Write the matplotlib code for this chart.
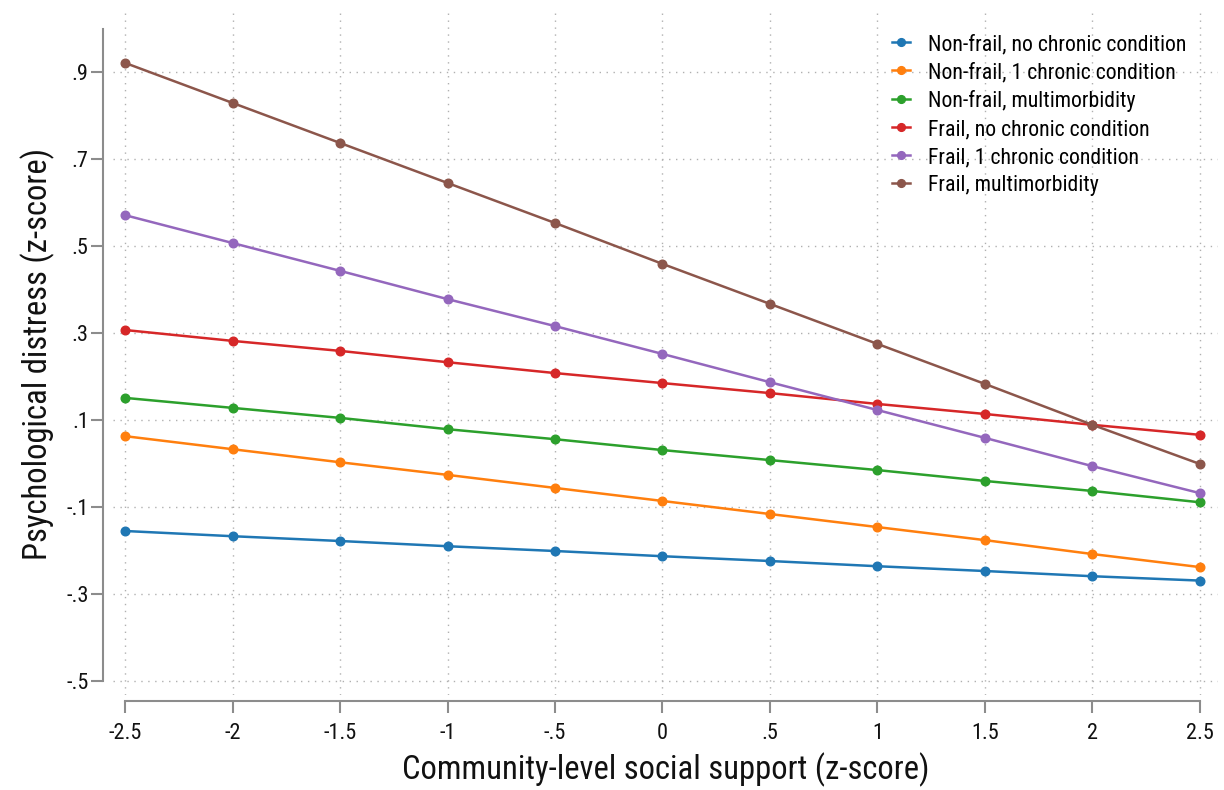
import matplotlib
matplotlib.use("Agg")
import matplotlib.pyplot as plt

plt.rcParams['font.family'] = ['Roboto Condensed', 'Liberation Sans', 'DejaVu Sans']

x_vals = [-2.5, -2.0, -1.5, -1.0, -0.5, 0.0, 0.5, 1.0, 1.5, 2.0, 2.5]

nonfrail_none = [-0.155, -0.167, -0.178, -0.190, -0.201, -0.213, -0.224, -0.236, -0.247, -0.259, -0.269]
nonfrail_one = [0.063, 0.033, 0.003, -0.026, -0.056, -0.086, -0.116, -0.146, -0.176, -0.208, -0.238]
nonfrail_multi = [0.151, 0.128, 0.105, 0.079, 0.056, 0.031, 0.008, -0.015, -0.040, -0.063, -0.089]
frail_none = [0.307, 0.282, 0.259, 0.233, 0.208, 0.185, 0.162, 0.137, 0.114, 0.089, 0.066]
frail_one = [0.571, 0.507, 0.443, 0.378, 0.316, 0.252, 0.187, 0.123, 0.059, -0.006, -0.068]
frail_multi = [0.921, 0.829, 0.737, 0.645, 0.553, 0.459, 0.367, 0.275, 0.183, 0.089, -0.001]

series = [
    ("Non-frail, no chronic condition", nonfrail_none, "#1f77b4"),
    ("Non-frail, 1 chronic condition", nonfrail_one, "#ff7f0e"),
    ("Non-frail, multimorbidity", nonfrail_multi, "#2ca02c"),
    ("Frail, no chronic condition", frail_none, "#d62728"),
    ("Frail, 1 chronic condition", frail_one, "#9467bd"),
    ("Frail, multimorbidity", frail_multi, "#8c564b"),
]

x_ticks = [-2.5, -2, -1.5, -1, -0.5, 0, 0.5, 1, 1.5, 2, 2.5]
x_tick_labels = ["-2.5", "-2", "-1.5", "-1", "-.5", "0", ".5", "1", "1.5", "2", "2.5"]
y_ticks = [-0.5, -0.3, -0.1, 0.1, 0.3, 0.5, 0.7, 0.9]
y_tick_labels = ["-.5", "-.3", "-.1", ".1", ".3", ".5", ".7", ".9"]

tick_fs = 16
label_fs = 23.5
legend_fs = 15.7

fig = plt.figure(figsize=(12.24, 7.9), dpi=100)
ax = fig.add_axes([113/1224, 1 - 695/790, (1218-113)/1224, (695-12)/790])

for label, vals, color in series:
    ax.plot(x_vals, vals, color=color, lw=1.8, marker='o', ms=6.2, label=label)

ax.set_xlim(-2.556, 2.584)
ax.set_ylim(-0.532, 1.038)

ax.set_xticks(x_ticks)
ax.set_xticklabels(x_tick_labels)
ax.set_yticks(y_ticks)
ax.set_yticklabels(y_tick_labels)

spine_color = "#8c8c8c"
for s in ['top', 'right']:
    ax.spines[s].set_visible(False)
ax.spines['left'].set_position(('outward', 7))
ax.spines['bottom'].set_position(('outward', 4))
ax.spines['left'].set_bounds(-0.5, 1.0)
ax.spines['bottom'].set_bounds(-2.5, 2.5)
for s in ['left', 'bottom']:
    ax.spines[s].set_color(spine_color)
    ax.spines[s].set_linewidth(1.5)

ax.tick_params(axis='both', length=8.5, width=1.5, color=spine_color,
               labelsize=tick_fs, labelcolor='#111111')
ax.tick_params(axis='x', pad=8)
ax.tick_params(axis='y', pad=2)

ax.grid(True, which='major', linestyle=(0, (1, 4)), color='#b0b0b0', lw=1.0)
ax.set_axisbelow(True)

ax.set_xlabel("Community-level social support (z-score)", fontsize=label_fs, labelpad=6, color='#111111')
ax.set_ylabel("Psychological distress (z-score)", fontsize=label_fs, labelpad=8, color='#111111')

leg = ax.legend(loc='upper right', bbox_to_anchor=(0.9855, 0.99), frameon=False, fontsize=legend_fs,
                handlelength=0.8, handletextpad=0.85, labelspacing=0.32, markerscale=0.9,
                borderaxespad=0.3)

fig.savefig("out.png", dpi=100)
